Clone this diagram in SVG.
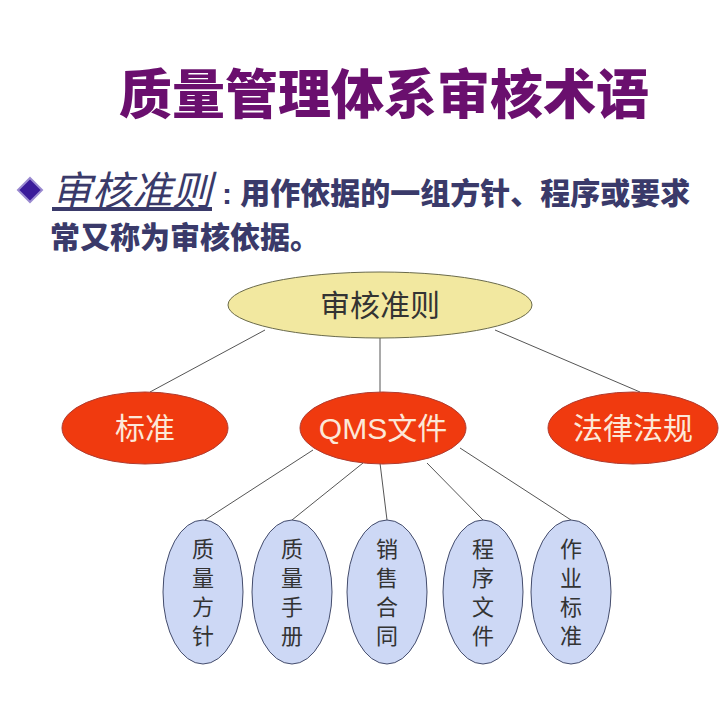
<svg xmlns="http://www.w3.org/2000/svg" width="719" height="720" viewBox="0 0 719 720">
<style>
.cn{font-family:"Liberation Sans","Noto Sans CJK SC",sans-serif}
.ln{stroke:#555;stroke-width:1;fill:none}
.red{fill:#f03a0f;stroke:#b03a2e;stroke-width:1}
.blue{fill:#cdd8f5;stroke:#444c6c;stroke-width:1}
.vt{font-size:22px;fill:#333;text-anchor:middle}
.wt{font-size:30px;fill:#fce8d8;text-anchor:middle}
</style>
<rect width="719" height="720" fill="#fff"/>
<text class="cn" x="384" y="114" font-size="53" font-weight="900" fill="#6a0f6e" text-anchor="middle">质量管理体系审核术语</text>
<polygon points="30,178 42,190 30,202 18,190" fill="#3a1a9a" stroke="#9a8ad0" stroke-width="2"/>
<text class="cn" x="52" y="205" font-size="40" font-style="italic" fill="#3a3a6a" text-decoration="underline">审核准则</text>
<text class="cn" x="222" y="204" font-size="30" font-weight="900" fill="#3a3a6a">: 用作依据的一组方针、程序或要求</text>
<text class="cn" x="50" y="248" font-size="30" font-weight="900" fill="#3a3a6a">常又称为审核依据。</text>
<g id="connectors">
<line class="ln" x1="265" y1="330" x2="150" y2="392"/>
<line class="ln" x1="380" y1="338" x2="380" y2="392"/>
<line class="ln" x1="495" y1="330" x2="640" y2="392"/>
<line class="ln" x1="313" y1="450" x2="205" y2="520"/>
<line class="ln" x1="363" y1="463" x2="292" y2="520"/>
<line class="ln" x1="380" y1="463" x2="387" y2="520"/>
<line class="ln" x1="427" y1="463" x2="483" y2="520"/>
<line class="ln" x1="460" y1="448" x2="571" y2="520"/>
</g>
<g id="root"><ellipse cx="380" cy="305" rx="152" ry="33" fill="#f2e8a0" stroke="#6a6a4a"/><text class="cn" x="380" y="316" font-size="30" fill="#333" text-anchor="middle">审核准则</text></g>
<g id="n1"><ellipse class="red" cx="145" cy="428" rx="83" ry="36"/><text class="cn wt" x="145" y="439">标准</text></g>
<g id="n2"><ellipse class="red" cx="383" cy="428" rx="83" ry="36"/><text class="cn wt" x="383" y="439">QMS文件</text></g>
<g id="n3"><ellipse class="red" cx="633" cy="428" rx="85" ry="36"/><text class="cn wt" x="633" y="439">法律法规</text></g>
<g id="c1"><ellipse class="blue" cx="203" cy="592" rx="40" ry="72"/><text class="cn vt" x="203" y="557">质</text><text class="cn vt" x="203" y="586">量</text><text class="cn vt" x="203" y="615">方</text><text class="cn vt" x="203" y="644">针</text></g>
<g id="c2"><ellipse class="blue" cx="292" cy="592" rx="40" ry="72"/><text class="cn vt" x="292" y="557">质</text><text class="cn vt" x="292" y="586">量</text><text class="cn vt" x="292" y="615">手</text><text class="cn vt" x="292" y="644">册</text></g>
<g id="c3"><ellipse class="blue" cx="387" cy="592" rx="40" ry="72"/><text class="cn vt" x="387" y="557">销</text><text class="cn vt" x="387" y="586">售</text><text class="cn vt" x="387" y="615">合</text><text class="cn vt" x="387" y="644">同</text></g>
<g id="c4"><ellipse class="blue" cx="483" cy="592" rx="40" ry="72"/><text class="cn vt" x="483" y="557">程</text><text class="cn vt" x="483" y="586">序</text><text class="cn vt" x="483" y="615">文</text><text class="cn vt" x="483" y="644">件</text></g>
<g id="c5"><ellipse class="blue" cx="571" cy="592" rx="40" ry="72"/><text class="cn vt" x="571" y="557">作</text><text class="cn vt" x="571" y="586">业</text><text class="cn vt" x="571" y="615">标</text><text class="cn vt" x="571" y="644">准</text></g>
</svg>
